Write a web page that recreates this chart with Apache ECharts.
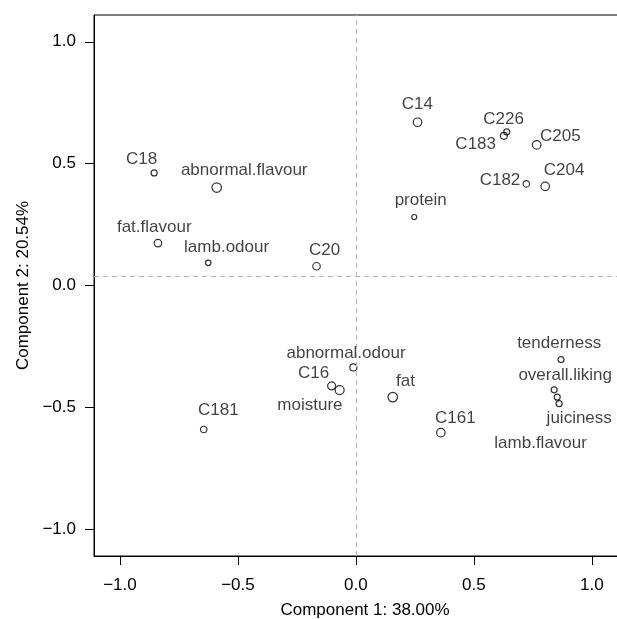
<!DOCTYPE html>
<html>
<head>
<meta charset="utf-8">
<script src="https://cdn.jsdelivr.net/npm/echarts@6/dist/echarts.min.js"></script>
<style>
  html, body { margin: 0; padding: 0; background: #fff; }
  #chart { width: 617px; height: 619px; }
</style>
</head>
<body>
<div id="chart"></div>
<script>
// variable names and their loadings on the first two components
var names = ['C18', 'abnormal.flavour', 'fat.flavour', 'lamb.odour', 'C20', 'C14', 'C226', 'C183',
    'C205', 'C182', 'C204', 'protein', 'C181', 'abnormal.odour', 'C16', 'moisture', 'fat', 'C161',
    'tenderness', 'overall.liking', 'juiciness', 'lamb.flavour'];
var comp1 = [-0.855, -0.590, -0.839, -0.626, -0.167, 0.261, 0.639, 0.627,
    0.766, 0.722, 0.802, 0.247, -0.645, -0.011, -0.103, -0.069, 0.156, 0.360,
    0.869, 0.840, 0.853, 0.861];
var comp2 = [0.462, 0.402, 0.174, 0.093, 0.079, 0.670, 0.630, 0.614,
    0.577, 0.417, 0.407, 0.281, -0.591, -0.336, -0.412, -0.429, -0.458, -0.604,
    -0.304, -0.428, -0.458, -0.485];
var tickValues = [-1, -0.5, 0, 0.5, 1];
var refX = 0;
var refY = 0.04;

// circle size and where each label sits from its point (px)
var symbolSizes = [6, 9.5, 7.5, 5.5, 7.5, 8.5, 6, 7, 8.5, 6.5, 8.5, 5, 6.5, 7, 8, 9, 9.5, 8.5, 6, 6, 6, 6];
var labelOffsets = [[-12.6, -13.7], [27.5, -17], [-3.7, -15.7], [18.4, -15.3], [8, -15.7], [-0.2, -18.3],
    [-3.2, -12.9], [-28.2, 8.8], [23.6, -8.4], [-26.3, -4], [18.9, -15.7], [6.4, -16.4],
    [14.6, -19.7], [-7.3, -14.4], [-18, -12.1], [-29.7, 15.7], [12.8, -15.3], [14.5, -14.7],
    [-1.8, -15.8], [11, -14], [22, 21.5], [-18.5, 39.7]];

var font = '"Liberation Sans", Arial, sans-serif';
var fontSize = 17;

function fmt(v) {
    var s = Math.abs(v).toFixed(1);
    return v < 0 ? '\u2212' + s : s;
}

var points = [];
for (var i = 0; i < names.length; i++) {
    points.push({
        name: names[i],
        value: [comp1[i], comp2[i]],
        symbolSize: symbolSizes[i],
        label: { offset: labelOffsets[i] }
    });
}

var myChart = echarts.init(document.getElementById('chart'));

option = {
    animation: false,
    grid: {
        left: 94,
        top: 15,
        width: 530,
        height: 541,
        show: true,
        borderColor: '#000',
        borderWidth: 1,
        outerBoundsMode: 'none',
        containLabel: false
    },
    xAxis: {
        type: 'value',
        min: -1.11,
        max: 1.136,
        name: 'Component 1: 38.00%',
        nameLocation: 'middle',
        nameGap: 46,
        nameTextStyle: { fontFamily: font, fontSize: fontSize, color: '#000', padding: [0, 0, 0, 12] },
        axisLine: { onZero: false, lineStyle: { color: '#000', width: 1 } },
        axisTick: { show: true, inside: false, length: 9, customValues: tickValues, lineStyle: { color: '#000' } },
        axisLabel: { customValues: tickValues, formatter: fmt, margin: 21, fontFamily: font, fontSize: fontSize, color: '#000' },
        splitLine: { show: false }
    },
    yAxis: {
        type: 'value',
        min: -1.11,
        max: 1.11,
        name: 'Component 2: 20.54%',
        nameLocation: 'middle',
        nameGap: 58,
        nameTextStyle: { fontFamily: font, fontSize: fontSize, color: '#000' },
        axisLine: { onZero: false, lineStyle: { color: '#000', width: 1 } },
        axisTick: { show: true, inside: false, length: 9, customValues: tickValues, lineStyle: { color: '#000' } },
        axisLabel: { customValues: tickValues, formatter: fmt, margin: 18, fontFamily: font, fontSize: fontSize, color: '#000' },
        splitLine: { show: false }
    },
    series: [
        {
            type: 'scatter',
            symbol: 'circle',
            data: points,
            itemStyle: { color: 'rgba(255,255,255,0)', borderColor: '#000', borderWidth: 1.2 },
            label: {
                show: true,
                position: 'inside',
                formatter: '{b}',
                align: 'center',
                verticalAlign: 'middle',
                fontFamily: font,
                fontSize: fontSize,
                color: '#111'
            },
            emphasis: { disabled: true },
            markLine: {
                silent: true,
                symbol: 'none',
                label: { show: false },
                lineStyle: { color: '#b5b5b5', type: [5, 4], width: 1 },
                data: [{ xAxis: refX }, { yAxis: refY }]
            }
        }
    ]
};
myChart.setOption(option);
</script>
</body>
</html>
